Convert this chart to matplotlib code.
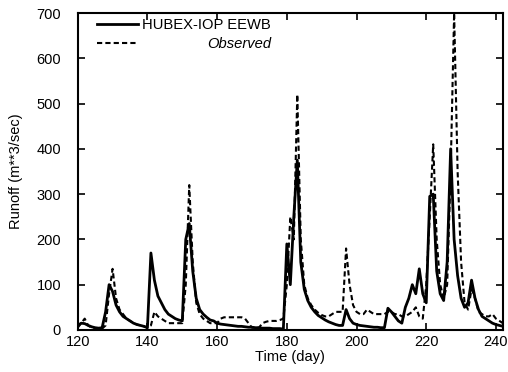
import matplotlib
matplotlib.use("Agg")
import matplotlib.pyplot as plt
import numpy as np

plt.rcParams['font.family'] = ['Liberation Sans', 'DejaVu Sans']

days = np.arange(120, 243)

# simulated runoff (HUBEX-IOP EEWB), one value per day 120..242
sim = [10, 15, 14, 10, 7, 5, 4, 5, 40, 100, 85, 55, 40, 30, 25, 20, 15, 12, 10, 8,
       5, 170, 110, 75, 60, 45, 35, 30, 25, 22, 20, 200, 235, 130, 70, 45, 35, 28, 22, 20,
       15, 13, 12, 11, 10, 9, 8, 8, 7, 6, 6, 5, 5, 4, 4, 4, 3, 3, 3, 2,
       190, 100, 250, 375, 150, 90, 65, 50, 40, 32, 27, 22, 18, 15, 12, 10, 10, 45, 25, 15,
       12, 10, 9, 8, 7, 6, 6, 5, 5, 48, 40, 30, 20, 15, 50, 70, 100, 80, 135, 80,
       60, 295, 300, 130, 80, 65, 150, 400, 200, 120, 70, 50, 60, 110, 70, 45, 30, 25, 20, 15,
       12, 10, 8]

# observed runoff
obs = [5, 15, 25, 10, 5, 3, 3, 3, 10, 80, 135, 70, 45, 35, 25, 20, 15, 12, 10, 8,
       5, 10, 40, 30, 25, 20, 15, 15, 15, 15, 15, 100, 320, 150, 60, 35, 25, 20, 15, 15,
       15, 25, 28, 28, 28, 28, 28, 28, 25, 15, 5, 5, 5, 15, 18, 20, 20, 20, 22, 25,
       100, 250, 200, 520, 200, 100, 70, 55, 45, 38, 33, 30, 30, 35, 40, 40, 40, 180, 100, 55,
       40, 35, 35, 45, 40, 35, 35, 35, 35, 40, 40, 35, 35, 30, 30, 35, 40, 50, 30, 25,
       100, 250, 410, 200, 100, 70, 100, 350, 700, 350, 150, 60, 45, 90, 70, 40, 35, 30, 30, 35,
       25, 20, 15]

fig = plt.figure(figsize=(5.08, 3.72), dpi=100)
ax = fig.add_axes([0.153, 0.113, 0.837, 0.852])

ax.plot(days, sim, c="k", lw=2, ls="-", label="HUBEX-IOP EEWB")
ax.plot(days, obs, c="k", lw=1.5, ls=(0, (2.5, 1.5)), label="Observed")

ax.set_xlim(120, 242)
ax.set_ylim(0, 700)
ax.set_xticks(np.arange(120, 241, 20))
ax.set_yticks(np.arange(0, 701, 100))
ax.tick_params(direction="in", top=True, right=True, labelsize=10.5, length=5, width=1.2)
ax.tick_params(axis="y", pad=12)
for s in ax.spines.values():
    s.set_linewidth(1.5)

ax.set_xlabel("Time (day)", fontsize=10.5, labelpad=1)
ax.set_ylabel("Runoff (m**3/sec)", fontsize=10.5, labelpad=10)

leg = ax.legend(loc="upper left", bbox_to_anchor=(0.045, 0.985), frameon=False,
                fontsize=10.6, handlelength=2.8, handletextpad=0.3,
                borderaxespad=0.0, borderpad=0.0, labelspacing=0.35)
texts = leg.get_texts()
texts[1].set_style("italic")
fig.canvas.draw()
widths = [t.get_window_extent().width for t in texts]
w = max(widths)
# right-align the legend labels
for t, tw in zip(texts, widths):
    t.set_position((w - tw, 0))

fig.savefig("out.png", dpi=100)
